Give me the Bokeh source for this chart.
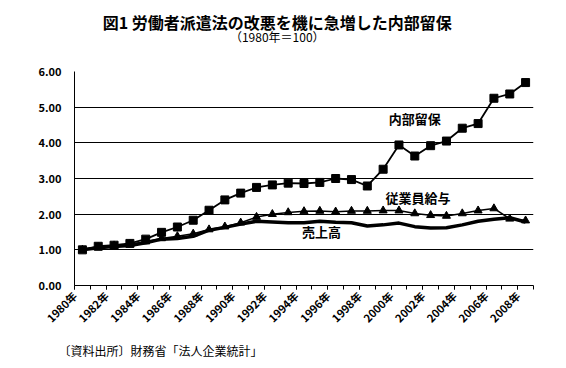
from bokeh.plotting import figure
from bokeh.models import Range1d, FixedTicker, NumeralTickFormatter, Label, Title
from bokeh.layouts import column
from bokeh.embed import file_html
from bokeh.resources import INLINE
import math

years = list(range(1980, 2009))
reserves = [1.00, 1.10, 1.13, 1.18, 1.30, 1.49, 1.64, 1.83, 2.11, 2.40, 2.59, 2.75, 2.82, 2.87,
            2.86, 2.89, 3.00, 2.97, 2.79, 3.26, 3.94, 3.63, 3.92, 4.05, 4.41, 4.54, 5.25, 5.37, 5.69]
wages = [1.00, 1.07, 1.12, 1.16, 1.23, 1.32, 1.38, 1.45, 1.57, 1.65, 1.76, 1.92, 2.00, 2.05,
         2.08, 2.09, 2.07, 2.09, 2.09, 2.10, 2.10, 2.02, 1.97, 1.95, 2.02, 2.10, 2.16, 1.87, 1.82]
sales = [1.00, 1.06, 1.09, 1.12, 1.20, 1.30, 1.32, 1.38, 1.55, 1.63, 1.72, 1.80, 1.78, 1.76,
         1.76, 1.80, 1.77, 1.76, 1.67, 1.70, 1.75, 1.65, 1.61, 1.62, 1.70, 1.80, 1.86, 1.90, 1.78]
y_ticks = [0, 1, 2, 3, 4, 5, 6]
label_years = years[::2]

title_text = "図1 労働者派遣法の改悪を機に急増した内部留保"
subtitle_text = "（1980年＝100）"
source_text = "〔資料出所〕財務省「法人企業統計」"
name_reserves = "内部留保"
name_wages = "従業員給与"
name_sales = "売上高"

JP = "Noto Sans CJK JP"
W = 566
HEAD_H = 45

# ---- header (title + subtitle) ----
head = figure(width=W, height=HEAD_H, output_backend="svg", toolbar_location=None,
              x_range=Range1d(0, W), y_range=Range1d(HEAD_H, 0),
              x_axis_location=None, y_axis_location=None,
              min_border=0, min_border_left=0, min_border_right=0,
              min_border_top=0, min_border_bottom=0)
head.grid.visible = False
head.outline_line_color = None
head.add_layout(Label(x=250, y=21, text=title_text, text_font=JP, text_font_style="bold",
                      text_font_size="16px", text_align="center", text_baseline="middle",
                      text_color="black"))
head.add_layout(Label(x=250, y=35.5, text=subtitle_text, text_font=JP, text_font_style="normal",
                      text_font_size="12px", text_align="center", text_baseline="middle",
                      text_color="black"))

# ---- main chart ----
# category centres
x = [y - years[0] + 0.5 for y in years]

p = figure(width=W, height=368 - HEAD_H, output_backend="svg", toolbar_location=None,
           x_range=Range1d(0, len(years)), y_range=Range1d(0, 6),
           min_border_left=74, min_border_right=33, min_border_top=71 - HEAD_H,
           min_border_bottom=83)
p.outline_line_color = None
p.background_fill_color = "white"

p.xgrid.visible = False
p.ygrid.ticker = FixedTicker(ticks=y_ticks)
p.ygrid.grid_line_color = "black"
p.ygrid.grid_line_width = 1

p.yaxis.ticker = FixedTicker(ticks=y_ticks)
p.yaxis.formatter = NumeralTickFormatter(format="0.00")
p.yaxis.major_tick_out = 0
p.yaxis.major_tick_in = 0
p.yaxis.minor_tick_out = 0
p.yaxis.minor_tick_in = 0
p.yaxis.axis_line_color = "black"
p.yaxis.major_label_standoff = 13
p.yaxis.major_label_text_font = JP
p.yaxis.major_label_text_font_style = "bold"
p.yaxis.major_label_text_font_size = "11px"
p.yaxis.major_label_text_color = "black"

tick_pos = [y - years[0] for y in label_years]
p.xaxis.ticker = FixedTicker(ticks=tick_pos, minor_ticks=list(range(0, len(years) + 1)))
p.xaxis.major_label_overrides = {t: f"{y}年" for t, y in zip(tick_pos, label_years)}
p.xaxis.major_tick_out = 4
p.xaxis.major_tick_in = 0
p.xaxis.minor_tick_out = 4
p.xaxis.minor_tick_in = 0
p.xaxis.minor_tick_line_color = "black"
p.xaxis.major_tick_line_color = "black"
p.xaxis.axis_line_color = "black"
p.xaxis.major_label_orientation = math.pi / 4
p.xaxis.major_label_standoff = 4
p.xaxis.major_label_text_font = JP
p.xaxis.major_label_text_font_style = "bold"
p.xaxis.major_label_text_font_size = "11px"
p.xaxis.major_label_text_color = "black"

p.line(x, sales, line_color="black", line_width=3.5, line_join="round")
p.line(x, wages, line_color="black", line_width=1.5)
p.scatter(x, wages, marker="triangle", size=8, fill_color="black", line_color="black")
p.line(x, reserves, line_color="black", line_width=1.8)
p.scatter(x, reserves, marker="square", size=8, fill_color="black", line_color="black")

def lab(text, xx, yy, size):
    p.add_layout(Label(x=xx, y=yy, text=text, text_font=JP, text_font_style="bold",
                       text_font_size=size, text_align="center", text_baseline="middle",
                       text_color="black"))

lab(name_reserves, 21.5, 4.68, "13px")
lab(name_wages, 21.7, 2.46, "13px")
lab(name_sales, 15.6, 1.51, "13px")

p.add_layout(Title(text=source_text, align="left", text_font=JP, text_font_style="normal",
                   text_font_size="12px", text_color="black", standoff=12, offset=-16), "below")

layout = column(head, p, spacing=0)
open("out.html", "w").write(file_html(layout, INLINE))
